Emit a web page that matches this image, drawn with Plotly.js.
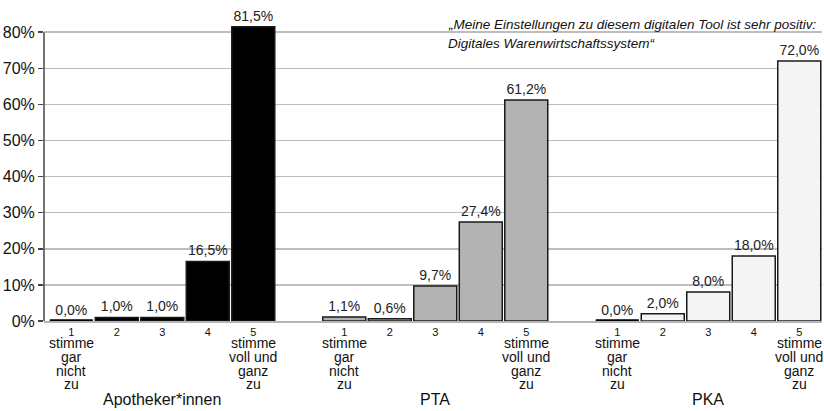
<!DOCTYPE html>
<html>
<head>
<meta charset="utf-8">
<script src="https://cdn.plot.ly/plotly-3.0.1.min.js"></script>
<style>html,body{margin:0;padding:0;background:#fff;}#chart{width:824px;height:411px;}</style>
</head>
<body>
<div id="chart"></div>
<script>
const categories = ['1', '2', '3', '4', '5'];
const groups = ['Apotheker*innen', 'PTA', 'PKA'];
const apotheker = [0.0, 1.0, 1.0, 16.5, 81.5];
const pta = [1.1, 0.6, 9.7, 27.4, 61.2];
const pka = [0.0, 2.0, 8.0, 18.0, 72.0];
const lowLabel = ['stimme', 'gar', 'nicht', 'zu'];
const highLabel = ['stimme', 'voll und', 'ganz', 'zu'];
const titleLines = ['„Meine Einstellungen zu diesem digitalen Tool ist sehr positiv:', 'Digitales Warenwirtschaftssystem“'];
const yTicks = [0, 10, 20, 30, 40, 50, 60, 70, 80];
const yTickText = ['0%', '10%', '20%', '30%', '40%', '50%', '60%', '70%', '80%'];

const seriesValues = [apotheker, pta, pka];
const fills = ['#000000', '#b3b3b3', '#f4f4f4'];
const FONT = 'Liberation Sans, Arial, sans-serif';
const slot = 6;
const barWidth = 0.945;
const lineStep = 13.8;

const traces = [];
const tickvals = [], ticktext = [];
const annotations = [];

function stackedLabel(x, lines) {
  lines.forEach((t, k) => {
    annotations.push({xref: 'x', yref: 'paper', x: x, y: 0, yshift: -22 - k * lineStep, yanchor: 'middle', xanchor: 'center',
      borderpad: 0, text: t, showarrow: false, font: {family: FONT, size: 14, color: '#111'}});
  });
}

seriesValues.forEach((vals, g) => {
  const xs = categories.map((c, i) => g * slot + i);
  xs.forEach((x, i) => { tickvals.push(x); ticktext.push(categories[i]); });
  traces.push({
    type: 'bar', x: xs, y: vals, width: barWidth,
    marker: {color: fills[g], line: {color: '#1a1a1a', width: 1.5}},
    texttemplate: '%{y:.1f}%', textposition: 'outside',
    textfont: {family: FONT, size: 14, color: '#222'},
    cliponaxis: false, hoverinfo: 'skip', showlegend: false
  });
  vals.forEach((v, i) => {
    if (v === 0) {
      traces.push({
        type: 'scatter', mode: 'lines', x: [xs[i] - barWidth / 2, xs[i] + barWidth / 2], y: [v, v],
        line: {color: '#000', width: 3.5}, cliponaxis: false, hoverinfo: 'skip', showlegend: false
      });
    }
  });
  stackedLabel(xs[0], lowLabel);
  stackedLabel(xs[4], highLabel);
  annotations.push({xref: 'x', yref: 'paper', x: xs[2], y: 0, yshift: -78, yanchor: 'middle', xanchor: 'center',
    text: groups[g], showarrow: false, font: {family: FONT, size: 16, color: '#111'}});
});

titleLines.forEach((t, k) => {
  annotations.push({xref: 'paper', yref: 'paper', x: 0.517, y: 1, yshift: 1 - k * 19, xanchor: 'left', yanchor: 'middle',
    text: '<i>' + t + '</i>', showarrow: false, align: 'left',
    font: {family: FONT, size: 13.5, color: '#111'}});
});

const layout = {
  width: 824, height: 411,
  margin: {l: 44, r: 2, t: 25, b: 90},
  paper_bgcolor: '#fff', plot_bgcolor: '#fff',
  separators: ',.',
  font: {family: FONT, color: '#111'},
  bargap: 0,
  xaxis: {
    range: [-0.6, 16.5], tickmode: 'array', tickvals: tickvals, ticktext: ticktext,
    tickfont: {family: FONT, size: 11, color: '#111'}, ticks: '', ticklen: 0,
    showgrid: false, zeroline: false, showline: true, linecolor: '#b5b5b5', linewidth: 1.5,
    fixedrange: true
  },
  yaxis: {
    range: [0, 82], tickmode: 'array', tickvals: yTicks, ticktext: yTickText,
    tickfont: {family: FONT, size: 16, color: '#111'},
    ticks: 'outside', ticklen: 5, tickcolor: '#444', tickwidth: 1.5,
    showgrid: true, gridcolor: '#bdbdbd', gridwidth: 1.5,
    zeroline: false, showline: false,
    fixedrange: true
  },
  shapes: [{type: 'line', xref: 'paper', yref: 'y', x0: 0, x1: 0, y0: yTicks[0], y1: yTicks[yTicks.length - 1],
    line: {color: '#444', width: 1.5}, layer: 'above'}],
  annotations: annotations
};

Plotly.newPlot('chart', traces, layout, {displayModeBar: false, staticPlot: true});
</script>
</body>
</html>
